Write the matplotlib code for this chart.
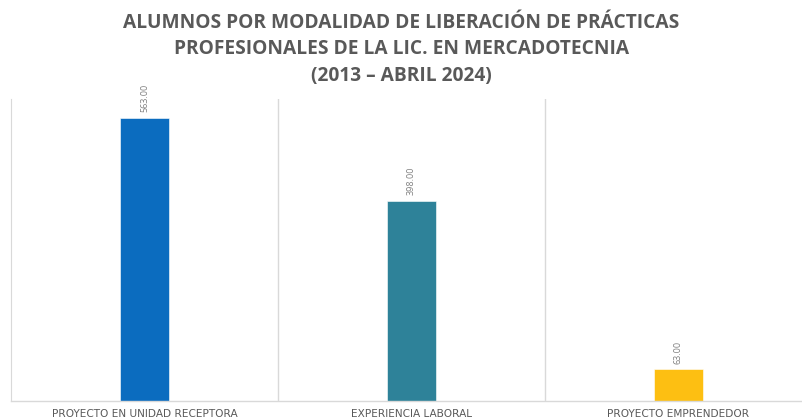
import matplotlib.pyplot as plt

categorias = ["PROYECTO EN UNIDAD RECEPTORA", "EXPERIENCIA LABORAL", "PROYECTO EMPRENDEDOR"]
alumnos = [563, 398, 63]
colores = ["#0b6cbf", "#2e8299", "#fdbf12"]
titulo = ("ALUMNOS POR MODALIDAD DE LIBERACIÓN DE PRÁCTICAS\n"
          "PROFESIONALES DE LA LIC. EN MERCADOTECNIA\n"
          "(2013 – ABRIL 2024)")

fig = plt.figure(figsize=(8.03, 4.2), dpi=100)
ax = fig.add_axes([11 / 803, 19 / 420, 801 / 803, 302 / 420])

x = range(len(categorias))
bars = ax.bar(x, alumnos, width=0.183, color=colores, edgecolor="white", linewidth=0.4)

for b, v in zip(bars, alumnos):
    ax.annotate(f"{v:.2f}", (b.get_x() + b.get_width() / 2, v), xytext=(0, 4),
                textcoords="offset points", rotation=90, ha="center", va="bottom",
                fontsize=6.5, color="#7f7f7f", family="Open Sans")

ax.set_xlim(-0.5, 2.5)
ax.set_ylim(0, 600)
ax.set_xticks(list(x))
ax.set_xticklabels(categorias, fontsize=7.6, color="#595959", family="DejaVu Sans")
ax.set_xticks([0.5, 1.5], minor=True)
ax.tick_params(axis="x", which="both", length=0, pad=6)
ax.set_yticks([])
ax.grid(axis="x", which="minor", color="#d9d9d9", linewidth=1)
ax.set_axisbelow(True)

for s in ["top", "right"]:
    ax.spines[s].set_visible(False)
ax.spines["left"].set_color("#d9d9d9")
ax.spines["bottom"].set_color("#d9d9d9")
ax.spines["bottom"].set_linewidth(1)

fig.text(0.5, 0.97, titulo, ha="center", va="top", fontsize=13.8, fontweight="bold",
         color="#595959", family="Open Sans", linespacing=1.45)

fig.savefig("out.png", dpi=100)
